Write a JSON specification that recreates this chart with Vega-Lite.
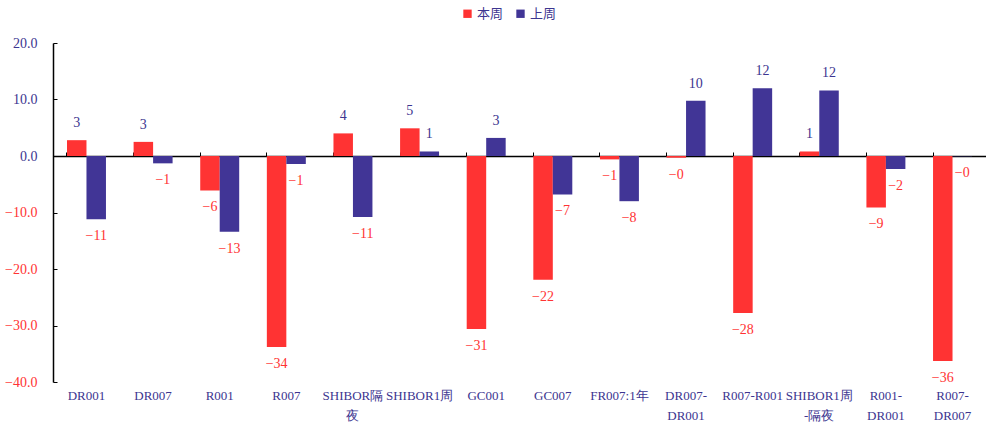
{
  "$schema": "https://vega.github.io/schema/vega-lite/v6.json",
  "width": 933,
  "height": 339,
  "autosize": {"type": "none"},
  "padding": {"left": 53, "top": 43, "right": 0, "bottom": 44},
  "background": "white",
  "config": {
    "view": {"stroke": null},
    "font": "Liberation Serif",
    "text": {"font": "Liberation Serif"}
  },
  "data": {
    "values": [
      {"cat": "DR001", "series": "本周", "v": 2.8},
      {"cat": "DR001", "series": "上周", "v": -11.2},
      {"cat": "DR007", "series": "本周", "v": 2.5},
      {"cat": "DR007", "series": "上周", "v": -1.3},
      {"cat": "R001", "series": "本周", "v": -6.1},
      {"cat": "R001", "series": "上周", "v": -13.4},
      {"cat": "R007", "series": "本周", "v": -33.8},
      {"cat": "R007", "series": "上周", "v": -1.4},
      {"cat": "SHIBOR隔夜", "series": "本周", "v": 4.0},
      {"cat": "SHIBOR隔夜", "series": "上周", "v": -10.8},
      {"cat": "SHIBOR1周", "series": "本周", "v": 4.9},
      {"cat": "SHIBOR1周", "series": "上周", "v": 0.8},
      {"cat": "GC001", "series": "本周", "v": -30.6},
      {"cat": "GC001", "series": "上周", "v": 3.2},
      {"cat": "GC007", "series": "本周", "v": -21.9},
      {"cat": "GC007", "series": "上周", "v": -6.8},
      {"cat": "FR007:1年", "series": "本周", "v": -0.6},
      {"cat": "FR007:1年", "series": "上周", "v": -8.0},
      {"cat": "DR007-DR001", "series": "本周", "v": -0.3},
      {"cat": "DR007-DR001", "series": "上周", "v": 9.8},
      {"cat": "R007-R001", "series": "本周", "v": -27.8},
      {"cat": "R007-R001", "series": "上周", "v": 12.0},
      {"cat": "SHIBOR1周-隔夜", "series": "本周", "v": 0.8},
      {"cat": "SHIBOR1周-隔夜", "series": "上周", "v": 11.6},
      {"cat": "R001-DR001", "series": "本周", "v": -9.1},
      {"cat": "R001-DR001", "series": "上周", "v": -2.3},
      {"cat": "R007-DR007", "series": "本周", "v": -36.3},
      {"cat": "R007-DR007", "series": "上周", "v": -0.05}
    ]
  },
  "encoding": {
    "x": {
      "field": "cat",
      "type": "nominal",
      "sort": null,
      "scale": {"paddingInner": 0.415, "paddingOuter": 0.21}
    },
    "xOffset": {"field": "series", "type": "nominal", "sort": ["本周", "上周"], "scale": {"paddingInner": 0}},
    "y": {
      "field": "v",
      "type": "quantitative",
      "scale": {"domain": [-40, 20], "nice": false, "zero": false},
      "axis": {
        "title": null,
        "values": [-40, -30, -20, -10, 0, 10, 20],
        "format": ".1f",
        "grid": false,
        "domainColor": "#000000",
        "domainWidth": 1.5,
        "tickColor": "#000000",
        "tickSize": -4,
        "labelPadding": 20,
        "labelFont": "Liberation Serif",
        "labelFontSize": 14,
        "labelColor": {"condition": {"test": "datum.value < 0", "value": "#FF3333"}, "value": "#3C3590"}
      }
    }
  },
  "resolve": {"axis": {"x": "independent"}},
  "layer": [
    {
      "mark": {"type": "bar"},
      "encoding": {
        "x": {
          "field": "cat",
          "type": "nominal",
          "sort": null,
          "axis": {
            "title": null,
            "orient": "bottom",
            "domain": false,
            "ticks": false,
            "labelAngle": 0,
            "labelOverlap": false,
            "labelLimit": 200,
            "labelPadding": 7,
            "labelBaseline": "top",
            "labelFont": "Liberation Serif",
            "labelFontSize": 13,
            "labelLineHeight": 20,
            "labelColor": "#3C3590",
            "labelExpr": "datum.value == 'SHIBOR隔夜' ? ['SHIBOR隔','夜'] : datum.value == 'DR007-DR001' ? ['DR007-','DR001'] : datum.value == 'SHIBOR1周-隔夜' ? ['SHIBOR1周','-隔夜'] : datum.value == 'R001-DR001' ? ['R001-','DR001'] : datum.value == 'R007-DR007' ? ['R007-','DR007'] : datum.value"
          }
        },
        "color": {
          "field": "series",
          "type": "nominal",
          "sort": ["本周", "上周"],
          "scale": {"domain": ["本周", "上周"], "range": ["#FF3333", "#413596"]},
          "legend": {
            "title": null,
            "orient": "none",
            "direction": "horizontal",
            "legendX": 408,
            "legendY": -36,
            "symbolType": "square",
            "symbolSize": 70,
            "symbolStrokeWidth": 0,
            "labelFont": "Noto Sans CJK SC",
            "labelFontSize": 13,
            "labelColor": "#3C3590",
            "labelOffset": 3,
            "columnPadding": 10
          }
        }
      }
    },
    {
      "mark": {
        "type": "text",
        "font": "Liberation Serif",
        "fontSize": 14,
        "baseline": "middle",
        "align": "center",
        "text": {"expr": "(datum.v < 0 ? '−' : '') + format(abs(datum.v), '.0f')"},
        "dy": {"expr": "datum.v < 0 ? 17 : -17"},
        "fill": {"expr": "datum.v < 0 ? '#FF3333' : '#3C3590'"}
      },
      "encoding": {
        "x": {"field": "cat", "type": "nominal", "sort": null, "axis": null}
      }
    },
    {
      "mark": {"type": "rule", "opacity": 0},
      "encoding": {
        "x": {
          "field": "cat",
          "type": "nominal",
          "sort": null,
          "axis": {
            "title": null,
            "orient": "top",
            "offset": -113,
            "labels": false,
            "domain": true,
            "domainColor": "#000000",
            "domainWidth": 1.5,
            "ticks": true,
            "tickColor": "#000000",
            "tickSize": 4,
            "bandPosition": 0
          }
        }
      }
    }
  ]
}
